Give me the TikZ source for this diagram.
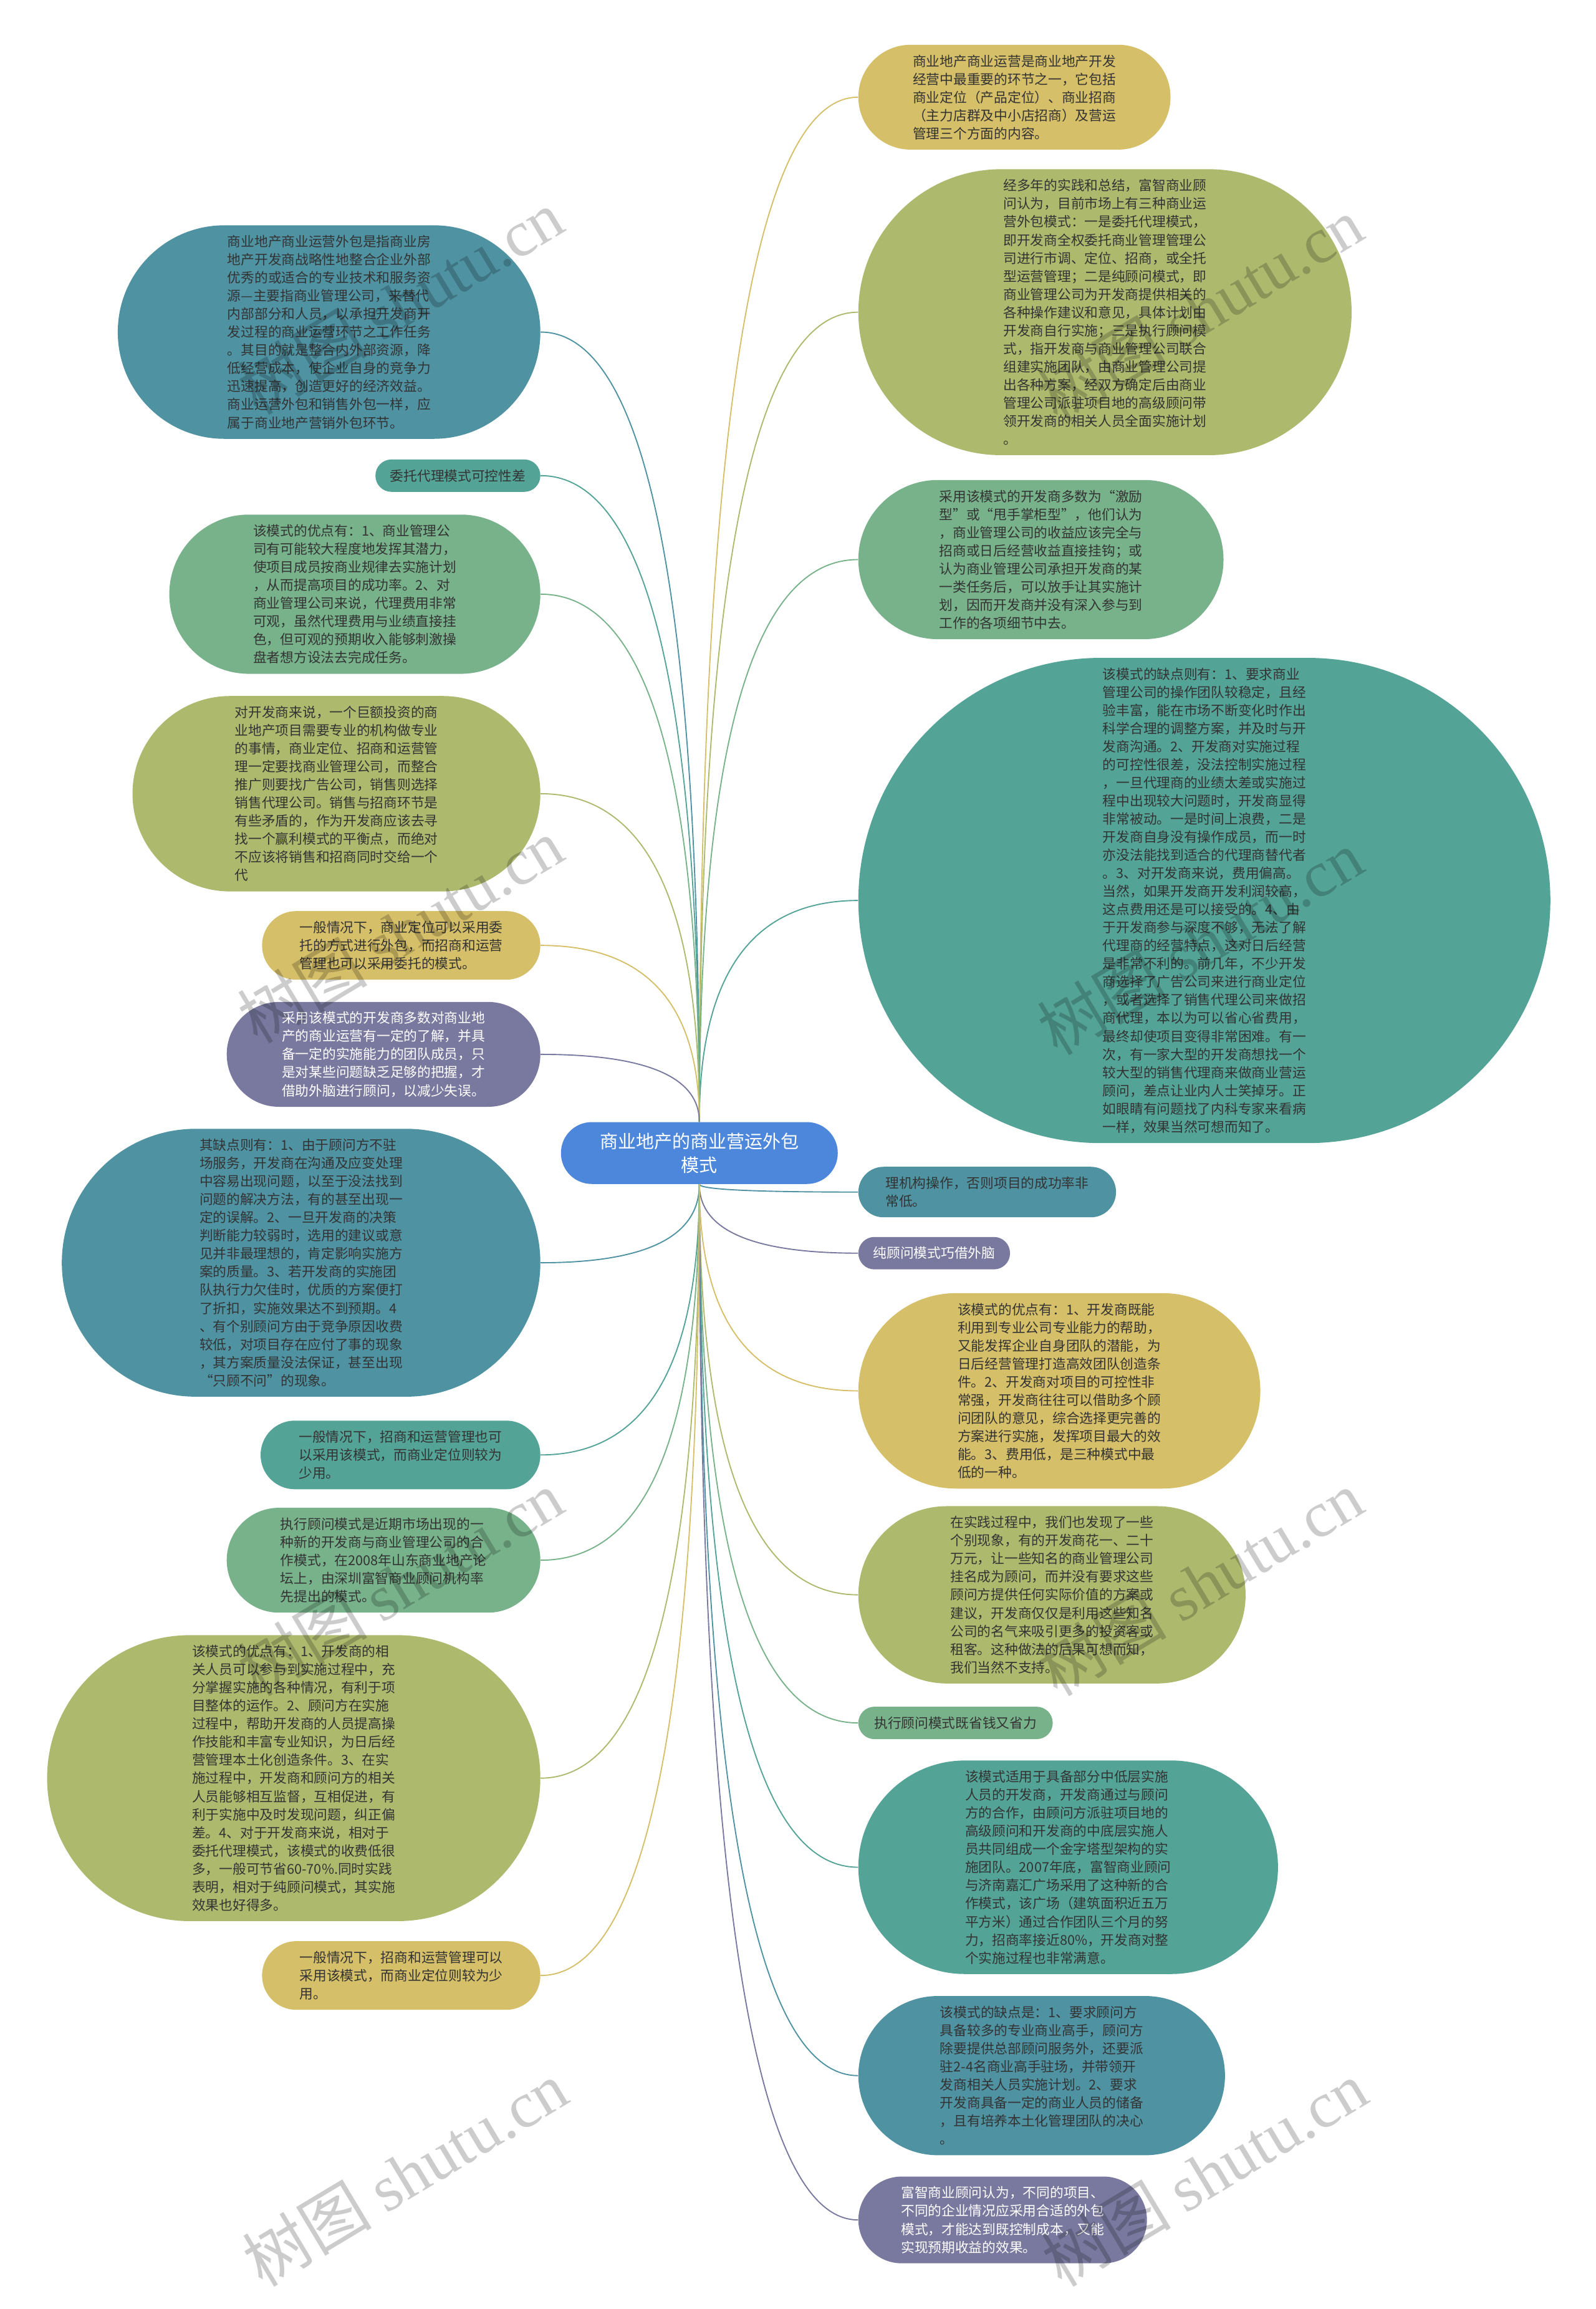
\documentclass[tikz,border=0pt]{standalone}
\usepackage{fontspec}
\setmainfont{Noto Sans CJK SC}
\newfontfamily\wmserif{Liberation Serif}
\usetikzlibrary{calc,backgrounds}
\definecolor{cBT}{HTML}{4F93A3}
\definecolor{cTe}{HTML}{54A397}
\definecolor{cGr}{HTML}{77B28A}
\definecolor{cOl}{HTML}{ADBA6E}
\definecolor{cYe}{HTML}{D5BF68}
\definecolor{cPu}{HTML}{79789F}
\definecolor{cCe}{HTML}{4D87DB}
\definecolor{cTx}{HTML}{333333}
\tikzset{
  mm/.style={rectangle, inner sep=0pt, align=left, text=cTx, font=\fontsize{9.2}{12.3}\selectfont},
  mmw/.style={text=white},
  mmline/.style={line width=0.8pt},
  wm/.style={text=black, opacity=0.2, rotate=31, font=\fontsize{44}{48}\selectfont, inner sep=0pt}
}
% name, cx, cy, w, h, color, radius, text
\newcommand{\mmn}[8]{\node[mm, fill=#6, minimum width=#4pt, minimum height=#5pt, rounded corners=#7pt] (#1) at (#2,#3) {#8};}
\newcommand{\mmlink}[3]{\draw[mmline,draw=#3] let \p1=(#1), \p2=(#2) in (\p1) .. controls (\x1,{\y1+0.6667*(\y2-\y1)}) and ({\x1+0.3333*(\x2-\x1)},\y2) .. (\p2);}
\begin{document}
\begin{tikzpicture}[x=1pt,y=-1pt]
\useasboundingbox (0,0) rectangle (1084,1568);

% center
\node[rectangle, fill=cCe, rounded corners=20.9pt, minimum width=188pt, minimum height=42pt, inner sep=0pt, align=center, text=white, font=\fontsize{12.3}{16}\selectfont] (ctr) at (475,783) {商业地产的商业营运外包\\模式};

% right side
\mmn{R1}{689}{66}{212}{71.2}{cYe}{35.5}{商业地产商业运营是商业地产开发\\经营中最重要的环节之一，它包括\\商业定位（产品定位）、商业招商\\（主力店群及中小店招商）及营运\\管理三个方面的内容。}
\mmn{R2}{750.5}{212}{335}{194.2}{cOl}{97}{经多年的实践和总结，富智商业顾\\问认为，目前市场上有三种商业运\\营外包模式：一是委托代理模式，\\即开发商全权委托商业管理管理公\\司进行市调、定位、招商，或全托\\型运营管理；二是纯顾问模式，即\\商业管理公司为开发商提供相关的\\各种操作建议和意见，具体计划由\\开发商自行实施；三是执行顾问模\\式，指开发商与商业管理公司联合\\组建实施团队，由商业管理公司提\\出各种方案，经双方确定后由商业\\管理公司派驻项目地的高级顾问带\\领开发商的相关人员全面实施计划\\。}
\mmn{R3}{707}{380}{248}{108.1}{cGr}{54}{采用该模式的开发商多数为“激励\\型”或“甩手掌柜型”，他们认为\\，商业管理公司的收益应该完全与\\招商或日后经营收益直接挂钩；或\\认为商业管理公司承担开发商的某\\一类任务后，可以放手让其实施计\\划，因而开发商并没有深入参与到\\工作的各项细节中去。}
\mmn{R4}{818}{611.5}{470}{329.5}{cTe}{164.7}{该模式的缺点则有：1、要求商业\\管理公司的操作团队较稳定，且经\\验丰富，能在市场不断变化时作出\\科学合理的调整方案，并及时与开\\发商沟通。2、开发商对实施过程\\的可控性很差，没法控制实施过程\\，一旦代理商的业绩太差或实施过\\程中出现较大问题时，开发商显得\\非常被动。一是时间上浪费，二是\\开发商自身没有操作成员，而一时\\亦没法能找到适合的代理商替代者\\。3、对开发商来说，费用偏高。\\当然，如果开发商开发利润较高，\\这点费用还是可以接受的。4、由\\于开发商参与深度不够，无法了解\\代理商的经营特点，这对日后经营\\是非常不利的。前几年，不少开发\\商选择了广告公司来进行商业定位\\，或者选择了销售代理公司来做招\\商代理，本以为可以省心省费用，\\最终却使项目变得非常困难。有一\\次，有一家大型的开发商想找一个\\较大型的销售代理商来做商业营运\\顾问，差点让业内人士笑掉牙。正\\如眼睛有问题找了内科专家来看病\\一样，效果当然可想而知了。}
\mmn{R5}{670.5}{809.5}{175}{34.3}{cBT}{17.1}{理机构操作，否则项目的成功率非\\常低。}
\mmn{R6}{634.5}{851}{103}{22}{cPu}{10.9}{\textcolor{white}{纯顾问模式巧借外脑}}
\mmn{R7}{719.5}{944.5}{273}{132.7}{cYe}{66.3}{该模式的优点有：1、开发商既能\\利用到专业公司专业能力的帮助，\\又能发挥企业自身团队的潜能，为\\日后经营管理打造高效团队创造条\\件。2、开发商对项目的可控性非\\常强，开发商往往可以借助多个顾\\问团队的意见，综合选择更完善的\\方案进行实施，发挥项目最大的效\\能。3、费用低，是三种模式中最\\低的一种。}
\mmn{R8}{714.5}{1083}{263}{120.4}{cOl}{60.1}{在实践过程中，我们也发现了一些\\个别现象，有的开发商花一、二十\\万元，让一些知名的商业管理公司\\挂名成为顾问，而并没有要求这些\\顾问方提供任何实际价值的方案或\\建议，开发商仅仅是利用这些知名\\公司的名气来吸引更多的投资客或\\租客。这种做法的后果可想而知，\\我们当然不支持。}
\mmn{R9}{649}{1170}{132}{22}{cGr}{10.9}{执行顾问模式既省钱又省力}
\mmn{R10}{725.5}{1268}{285}{145}{cTe}{72.4}{该模式适用于具备部分中低层实施\\人员的开发商，开发商通过与顾问\\方的合作，由顾问方派驻项目地的\\高级顾问和开发商的中底层实施人\\员共同组成一个金字塔型架构的实\\施团队。2007年底，富智商业顾问\\与济南嘉汇广场采用了这种新的合\\作模式，该广场（建筑面积近五万\\平方米）通过合作团队三个月的努\\力，招商率接近80\%，开发商对整\\个实施过程也非常满意。}
\mmn{R11}{707.5}{1409.5}{249}{108.1}{cBT}{54}{该模式的缺点是：1、要求顾问方\\具备较多的专业商业高手，顾问方\\除要提供总部顾问服务外，还要派\\驻2-4名商业高手驻场，并带领开\\发商相关人员实施计划。2、要求\\开发商具备一定的商业人员的储备\\，且有培养本土化管理团队的决心\\。}
\mmn{R12}{681}{1507.5}{196}{58.9}{cPu}{29.4}{\color{white}富智商业顾问认为，不同的项目、\\\color{white}不同的企业情况应采用合适的外包\\\color{white}模式，才能达到既控制成本，又能\\\color{white}实现预期收益的效果。}

% left side
\mmn{L1}{223.5}{225.5}{287}{145}{cBT}{72.4}{商业地产商业运营外包是指商业房\\地产开发商战略性地整合企业外部\\优秀的或适合的专业技术和服务资\\源—主要指商业管理公司，来替代\\内部部分和人员，以承担开发商开\\发过程的商业运营环节之工作任务\\。其目的就是整合内外部资源，降\\低经营成本，使企业自身的竞争力\\迅速提高，创造更好的经济效益。\\商业运营外包和销售外包一样，应\\属于商业地产营销外包环节。}
\mmn{L2}{311}{323}{112}{22}{cTe}{10.9}{委托代理模式可控性差}
\mmn{L3}{241}{403.5}{252}{108.1}{cGr}{54}{该模式的优点有：1、商业管理公\\司有可能较大程度地发挥其潜力，\\使项目成员按商业规律去实施计划\\，从而提高项目的成功率。2、对\\商业管理公司来说，代理费用非常\\可观，虽然代理费用与业绩直接挂\\色，但可观的预期收入能够刺激操\\盘者想方设法去完成任务。}
\mmn{L4}{228.5}{539}{277}{132.7}{cOl}{66.3}{对开发商来说，一个巨额投资的商\\业地产项目需要专业的机构做专业\\的事情，商业定位、招商和运营管\\理一定要找商业管理公司，而整合\\推广则要找广告公司，销售则选择\\销售代理公司。销售与招商环节是\\有些矛盾的，作为开发商应该去寻\\找一个赢利模式的平衡点，而绝对\\不应该将销售和招商同时交给一个\\代}
\mmn{L5}{272.5}{642}{189}{46.6}{cYe}{23.2}{一般情况下，商业定位可以采用委\\托的方式进行外包，而招商和运营\\管理也可以采用委托的模式。}
\mmn{L6}{260.5}{716}{213}{71.2}{cPu}{35.5}{\color{white}采用该模式的开发商多数对商业地\\\color{white}产的商业运营有一定的了解，并具\\\color{white}备一定的实施能力的团队成员，只\\\color{white}是对某些问题缺乏足够的把握，才\\\color{white}借助外脑进行顾问，以减少失误。}
\mmn{L7}{204.5}{857.5}{325}{181.9}{cBT}{90.9}{其缺点则有：1、由于顾问方不驻\\场服务，开发商在沟通及应变处理\\中容易出现问题，以至于没法找到\\问题的解决方法，有的甚至出现一\\定的误解。2、一旦开发商的决策\\判断能力较弱时，选用的建议或意\\见并非最理想的，肯定影响实施方\\案的质量。3、若开发商的实施团\\队执行力欠佳时，优质的方案便打\\了折扣，实施效果达不到预期。4\\、有个别顾问方由于竞争原因收费\\较低，对项目存在应付了事的现象\\，其方案质量没法保证，甚至出现\\“只顾不问”的现象。}
\mmn{L8}{272}{988}{190}{46.6}{cTe}{23.2}{一般情况下，招商和运营管理也可\\以采用该模式，而商业定位则较为\\少用。}
\mmn{L9}{260.5}{1059.5}{213}{71.2}{cGr}{35.5}{执行顾问模式是近期市场出现的一\\种新的开发商与商业管理公司的合\\作模式，在2008年山东商业地产论\\坛上，由深圳富智商业顾问机构率\\先提出的模式。}
\mmn{L10}{199.5}{1207.5}{335}{194.2}{cOl}{97}{该模式的优点有：1、开发商的相\\关人员可以参与到实施过程中，充\\分掌握实施的各种情况，有利于项\\目整体的运作。2、顾问方在实施\\过程中，帮助开发商的人员提高操\\作技能和丰富专业知识，为日后经\\营管理本土化创造条件。3、在实\\施过程中，开发商和顾问方的相关\\人员能够相互监督，互相促进，有\\利于实施中及时发现问题，纠正偏\\差。4、对于开发商来说，相对于\\委托代理模式，该模式的收费低很\\多，一般可节省60-70\%.同时实践\\表明，相对于纯顾问模式，其实施\\效果也好得多。}
\mmn{L11}{272.5}{1341.5}{189}{46.6}{cYe}{23.2}{一般情况下，招商和运营管理可以\\采用该模式，而商业定位则较为少\\用。}

\begin{scope}[on background layer]
\fill[white] (0,0) rectangle (1084,1568);
\mmlink{ctr.north}{R1.west}{cYe}
\mmlink{ctr.north}{R2.west}{cOl}
\mmlink{ctr.north}{R3.west}{cGr}
\mmlink{ctr.north}{R4.west}{cTe}
\mmlink{ctr.south}{R5.west}{cBT}
\mmlink{ctr.south}{R6.west}{cPu}
\mmlink{ctr.south}{R7.west}{cYe}
\mmlink{ctr.south}{R8.west}{cOl}
\mmlink{ctr.south}{R9.west}{cGr}
\mmlink{ctr.south}{R10.west}{cTe}
\mmlink{ctr.south}{R11.west}{cBT}
\mmlink{ctr.south}{R12.west}{cPu}
\mmlink{ctr.north}{L1.east}{cBT}
\mmlink{ctr.north}{L2.east}{cTe}
\mmlink{ctr.north}{L3.east}{cGr}
\mmlink{ctr.north}{L4.east}{cOl}
\mmlink{ctr.north}{L5.east}{cYe}
\mmlink{ctr.north}{L6.east}{cPu}
\mmlink{ctr.south}{L7.east}{cBT}
\mmlink{ctr.south}{L8.east}{cTe}
\mmlink{ctr.south}{L9.east}{cGr}
\mmlink{ctr.south}{L10.east}{cOl}
\mmlink{ctr.south}{L11.east}{cYe}
\end{scope}

% watermarks
\node[wm] (wm1) at (272,205) {树图 {\wmserif shutu.cn}};
\node[wm] (wm2) at (815,210) {树图 {\wmserif shutu.cn}};
\node[wm] (wm3) at (272,632) {树图 {\wmserif shutu.cn}};
\node[wm] (wm4) at (815,640) {树图 {\wmserif shutu.cn}};
\node[wm] (wm5) at (272,1075) {树图 {\wmserif shutu.cn}};
\node[wm] (wm6) at (815,1075) {树图 {\wmserif shutu.cn}};
\node[wm] (wm7) at (275,1476) {树图 {\wmserif shutu.cn}};
\node[wm] (wm8) at (818,1476) {树图 {\wmserif shutu.cn}};
\end{tikzpicture}
\end{document}
